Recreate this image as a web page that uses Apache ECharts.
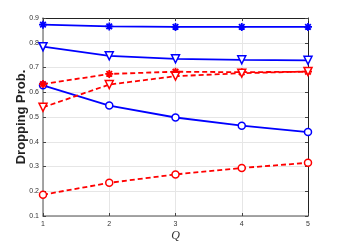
<!DOCTYPE html>
<html><head><meta charset="utf-8">
<script src="https://cdn.jsdelivr.net/npm/echarts@6/dist/echarts.min.js"></script>
<style>html,body{margin:0;padding:0;background:#fff}#c{width:341px;height:243px}</style>
</head><body><div id="c"></div>
<script>
var categories = [1, 2, 3, 4, 5];
var blueStar = [0.873, 0.866, 0.864, 0.864, 0.864];
var blueTri = [0.784, 0.747, 0.735, 0.731, 0.729];
var blueCircle = [0.628, 0.546, 0.498, 0.465, 0.439];
var redStar = [0.633, 0.674, 0.683, 0.681, 0.683];
var redTri = [0.539, 0.631, 0.665, 0.677, 0.684];
var redCircle = [0.186, 0.234, 0.268, 0.294, 0.315];

var STAR = 'path://M5,0 L5,10 M0,5 L10,5 M1.5,1.5 L8.5,8.5 M8.5,1.5 L1.5,8.5';
var TRI = 'path://M0,0 L10,0 L5,9 Z';
function pairs(arr){ return arr.map(function(v,i){ return [categories[i], v]; }); }
function mk(data, color, dashed, symbol, size, isStar){
  return {
    type: 'line', data: pairs(data), symbol: symbol, symbolSize: size,
    lineStyle: {color: color, width: 1.8, type: dashed ? [5,3] : 'solid'},
    itemStyle: {color: isStar ? color : '#fff', borderColor: color, borderWidth: isStar ? 1.8 : 1.5},
    z: 3
  };
}
var plainAxis = function(pos){
  return {
    type: 'value', position: pos, min: pos==='top'?1:0.1, max: pos==='top'?5:0.9, interval: pos==='top'?1:0.1,
    axisLine: {show: true, lineStyle: {color: '#222', width: 1}},
    axisTick: {show: true, inside: true, length: 3, lineStyle: {color: '#444'}},
    axisLabel: {show: false}, splitLine: {show: false}
  };
};
var chart = echarts.init(document.getElementById('c'), null, {renderer: 'canvas'});
chart.setOption({
  animation: false,
  grid: {left: 43, right: 33, top: 18, bottom: 27, containLabel: false, outerBoundsMode: 'none'},
  xAxis: [{
    type: 'value', min: 1, max: 5, interval: 1,
    name: 'Q', nameLocation: 'middle', nameGap: 14, nameMoveOverlap: false,
    nameTextStyle: {fontFamily: 'Liberation Serif', fontStyle: 'italic', fontSize: 12, color: '#333'},
    axisLine: {lineStyle: {color: '#888', width: 1.5}},
    axisTick: {inside: true, length: 3, lineStyle: {color: '#444'}},
    axisLabel: {fontSize: 7, color: '#333', margin: 5, fontFamily: 'Liberation Sans'},
    splitLine: {show: true, lineStyle: {color: '#e6e6e6', width: 1}}
  }, plainAxis('top')],
  yAxis: [{
    type: 'value', min: 0.1, max: 0.9, interval: 0.1,
    name: 'Dropping Prob.', nameLocation: 'middle', nameGap: 15, nameMoveOverlap: false,
    nameTextStyle: {fontFamily: 'Liberation Sans', fontWeight: 'bold', fontSize: 13, color: '#222'},
    axisLine: {lineStyle: {color: '#888', width: 1.5}},
    axisTick: {inside: true, length: 3, lineStyle: {color: '#444'}},
    axisLabel: {fontSize: 7, color: '#333', margin: 4, fontFamily: 'Liberation Sans',
      formatter: function(v){ return v.toFixed(1); }},
    splitLine: {show: true, lineStyle: {color: '#e6e6e6', width: 1}}
  }, plainAxis('right')],
  series: [
    mk(blueStar, '#0000ff', false, STAR, 8, true),
    mk(blueTri, '#0000ff', false, TRI, 8, false),
    mk(blueCircle, '#0000ff', false, 'circle', 7, false),
    mk(redStar, '#ff0000', true, STAR, 8, true),
    mk(redTri, '#ff0000', true, TRI, 8, false),
    mk(redCircle, '#ff0000', true, 'circle', 7, false)
  ]
});
</script></body></html>
